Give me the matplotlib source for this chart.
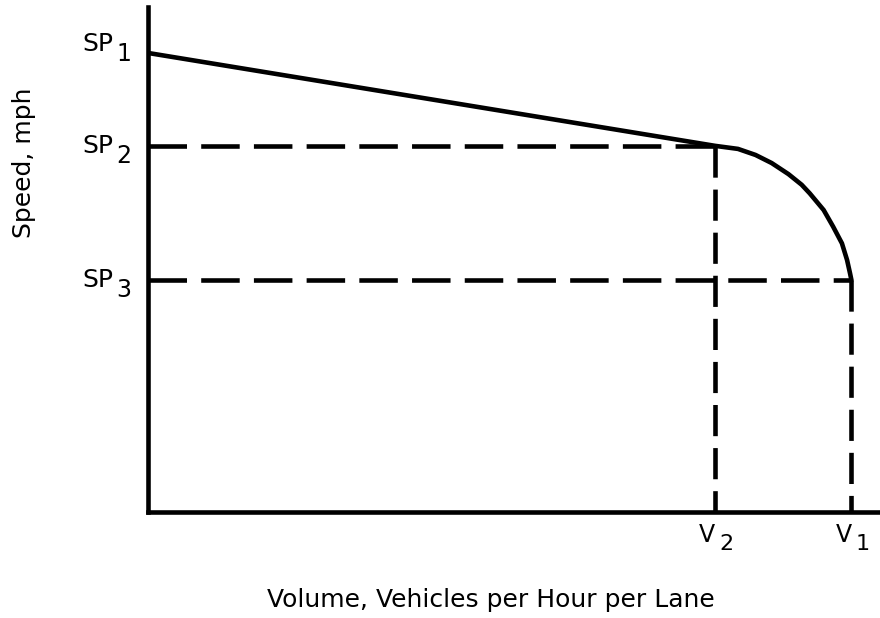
import numpy as np
import matplotlib.pyplot as plt

# values (arbitrary units, axes 0-100)
sp1 = 90.9
sp2 = 72.5
sp3 = 45.9
v2 = 77.5
v1 = 96.1

# curved part between (v2, sp2) and (v1, sp3)
curve_x = [77.5, 80.6, 83.0, 85.2, 87.5, 89.3, 90.4, 92.3, 93.6, 94.8, 95.5, 95.9, 96.1]
curve_y = [72.5, 71.9, 70.7, 69.1, 66.9, 64.8, 63.1, 59.8, 56.5, 53.2, 49.9, 47.3, 45.9]

sp_labels = ['1', '2', '3']
v_labels = ['2', '1']

plt.rcParams['font.family'] = ['DejaVu Sans']

fig = plt.figure(figsize=(8.8, 6.18), dpi=100)
ax = fig.add_axes([148 / 880, 1 - 512 / 618, 1 - 148 / 880, 505 / 618])
ax.set_xlim(0, 100)
ax.set_ylim(0, 100)

lw = 3.3
hdash = (0, (8.4, 3.1))
vdash = (0, (6.8, 2.6))

# solid speed-volume curve
ax.plot([0] + curve_x, [sp1] + curve_y, color='black', lw=lw,
        solid_joinstyle='round', solid_capstyle='round')

# dashed guide lines
ax.plot([0, v2], [sp2, sp2], color='black', lw=lw, linestyle=hdash)
ax.plot([0, v1], [sp3, sp3], color='black', lw=lw, linestyle=hdash)
ax.plot([v2, v2], [sp2, 0], color='black', lw=lw, linestyle=vdash)
ax.plot([v1, v1], [sp3, 0], color='black', lw=lw, linestyle=vdash)

for s in ['top', 'right']:
    ax.spines[s].set_visible(False)
for s in ['left', 'bottom']:
    ax.spines[s].set_linewidth(3.3)
ax.set_xticks([])
ax.set_yticks([])

# SP labels
sp_vals = [sp1, sp2, sp3]
sp_dy = [9, 0, 0]
for val, lab, dy in zip(sp_vals, sp_labels, sp_dy):
    ax.annotate('SP', xy=(0, val), xytext=(-35, dy), textcoords='offset pixels',
                ha='right', va='center', fontsize=18)
    ax.annotate(lab, xy=(0, val), xytext=(-32, dy - 10), textcoords='offset pixels',
                ha='left', va='center', fontsize=17)

# V labels
for val, lab in zip([v2, v1], v_labels):
    ax.annotate('V', xy=(val, 0), xytext=(-8, -23), textcoords='offset pixels',
                ha='center', va='center', fontsize=17)
    ax.annotate(lab, xy=(val, 0), xytext=(4, -32), textcoords='offset pixels',
                ha='left', va='center', fontsize=16)

fig.text(491 / 880, 1 - 600 / 618, 'Volume, Vehicles per Hour per Lane',
         ha='center', va='center', fontsize=18)
fig.text(24 / 880, 1 - 163 / 618, 'Speed, mph', rotation=90,
         ha='center', va='center', fontsize=18)

fig.savefig('out.png', dpi=100)
